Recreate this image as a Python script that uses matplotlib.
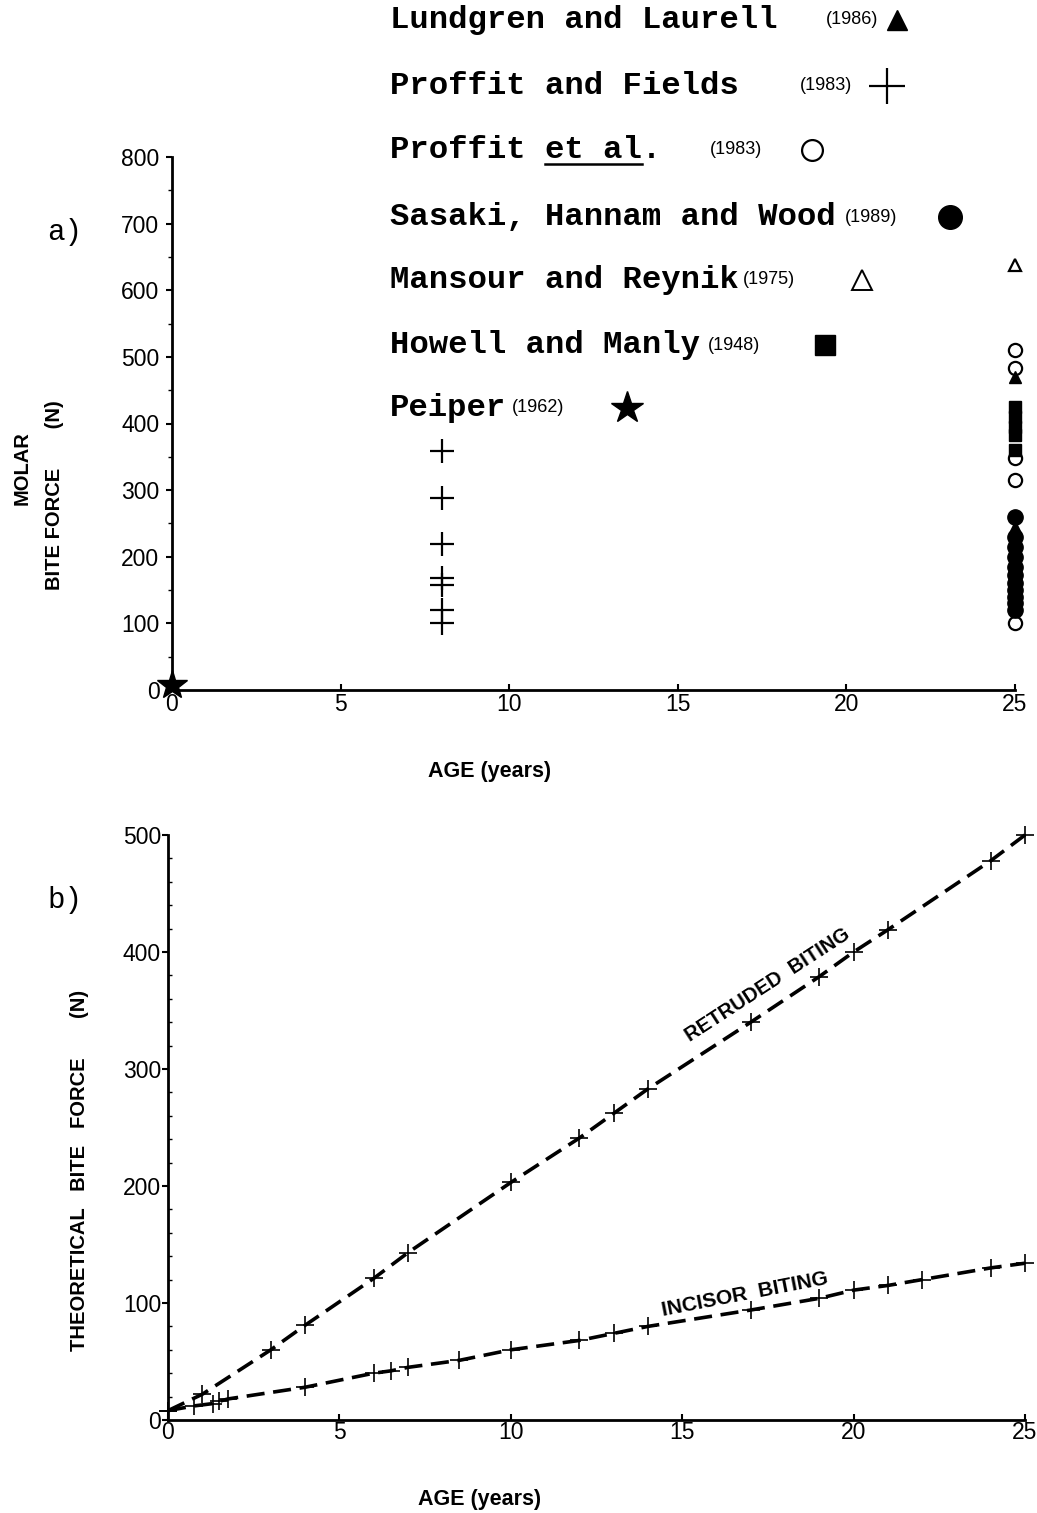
import numpy as np
import matplotlib
matplotlib.use('Agg')
import matplotlib.pyplot as plt

# --- data ---
# a) molar bite force vs age
pf_age = [8, 8, 8, 8, 8, 8, 8]                      # Proffit and Fields (1983)
pf_force = [359, 288, 219, 168, 158, 120, 100]

pe_age = [25, 25, 25, 25, 25]                       # Proffit et al. (1983)
pe_force = [510, 483, 348, 315, 100]

shw_age = [25] * 11                                 # Sasaki, Hannam and Wood (1989)
shw_force = [260, 230, 215, 200, 185, 172, 160, 150, 140, 130, 120]

mr_age = [25]                                       # Mansour and Reynik (1975)
mr_force = [638]

hm_age = [25, 25, 25, 25, 25]                       # Howell and Manly (1948)
hm_force = [425, 410, 395, 382, 360]

ll_age = [25, 25]                                   # Lundgren and Laurell (1986)
ll_force = [470, 245]

pei_age = [0]                                       # Peiper (1962)
pei_force = [8]

# b) theoretical bite force
ret_age = [0, 1, 3, 4, 6, 7, 10, 12, 13, 14, 17, 19, 20, 21, 24, 25]
ret_force = [8, 22, 60, 81, 121, 143, 203, 241, 262, 283, 340, 379, 400, 419, 478, 500]

inc_age = [0, 0.75, 1.3, 1.5, 1.75, 4, 6, 6.5, 7, 8.5, 10, 12, 13, 14, 17, 19, 20, 21, 22, 24, 25]
inc_force = [8, 12, 14, 16, 18, 28, 40, 42, 45, 51, 60, 68, 74, 80, 94, 104, 111, 115, 120, 130, 134]

W, H = 1037, 1513
fig = plt.figure(figsize=(W / 100, H / 100), dpi=100)

def fx(x):
    return x / W

def fy(y):
    return 1 - y / H

mono = 'Liberation Mono'
sans = 'Liberation Sans'

# ---------------- panel a ----------------
ax = fig.add_axes([fx(172), fy(690), fx(1015 - 172), (690 - 157) / H])
ax.set_xlim(0, 25)
ax.set_ylim(0, 800)
for s in ['top', 'right']:
    ax.spines[s].set_visible(False)
for s in ['left', 'bottom']:
    ax.spines[s].set_linewidth(2)
ax.set_xticks([0, 5, 10, 15, 20, 25])
ax.set_yticks(range(0, 801, 100))
ax.set_yticks(range(50, 800, 100), minor=True)
ax.tick_params(axis='y', which='major', direction='out', length=4, width=1.5, pad=5, labelsize=16.5)
ax.tick_params(axis='y', which='minor', direction='out', length=3, width=1)
ax.tick_params(axis='x', which='major', direction='in', length=4, width=1.5, pad=2, labelsize=16.5)
for lab in ax.get_xticklabels() + ax.get_yticklabels():
    lab.set_family(sans)

kw = dict(linestyle='none', color='black', clip_on=False)
ax.plot(pf_age, pf_force, marker='+', ms=17, mew=1.6, **kw)
ax.plot(pe_age, pe_force, marker='o', ms=9.5, mfc='white', mew=1.6, **kw)
ax.plot(shw_age, shw_force, marker='o', ms=11, **kw)
ax.plot(hm_age, hm_force, marker='s', ms=9, **kw)
ax.plot(mr_age, mr_force, marker='^', ms=8, mfc='white', mew=1.6, **kw)
ax.plot(ll_age, ll_force, marker='^', ms=9, **kw)
ax.plot(pei_age, pei_force, marker='*', ms=22, **kw)

# legend written as text rows
rows = [
    ('Lundgren and Laurell', '(1986)', 20, 826, 897, dict(marker='^', ms=15)),
    ('Proffit and Fields', '(1983)', 86, 800, 887, dict(marker='+', ms=26, mew=1.6)),
    ('Proffit et al.', '(1983)', 150, 710, 812, dict(marker='o', ms=15, mfc='white', mew=1.6)),
    ('Sasaki, Hannam and Wood', '(1989)', 217, 845, 950, dict(marker='o', ms=17)),
    ('Mansour and Reynik', '(1975)', 280, 743, 862, dict(marker='^', ms=15, mfc='white', mew=1.4)),
    ('Howell and Manly', '(1948)', 345, 708, 825, dict(marker='s', ms=15)),
    ('Peiper', '(1962)', 408, 512, 627, dict(marker='*', ms=24)),
]
for name, year, y, yx, mx, mk in rows:
    fig.text(fx(390), fy(y), name, family=mono, weight='bold', fontsize=23.2,
             ha='left', va='center')
    fig.text(fx(yx), fy(y), year, family=sans, fontsize=13, ha='left', va='center')
    fig.add_artist(plt.Line2D([fx(mx)], [fy(y)], color='black', linestyle='none', **mk))
# underline "et al"
fig.add_artist(plt.Line2D([fx(545), fx(642)], [fy(164), fy(164)], color='black', lw=1.8))

fig.text(fx(65), fy(232), 'a)', family=mono, fontsize=21, ha='center', va='center')
fig.text(fx(22), fy(468), 'MOLAR', family=sans, weight='bold', fontsize=14.5,
         rotation=90, ha='center', va='center')
fig.text(fx(55), fy(495), 'BITE FORCE       (N)', family=sans, weight='bold', fontsize=14.5,
         rotation=90, ha='center', va='center')
fig.text(fx(490), fy(772), 'AGE (years)', family=sans, weight='bold', fontsize=15.5,
         ha='center', va='center')

# ---------------- panel b ----------------
bx = fig.add_axes([fx(168), fy(1420), fx(1025 - 168), (1420 - 835) / H])
bx.set_xlim(0, 25)
bx.set_ylim(0, 500)
for s in ['top', 'right']:
    bx.spines[s].set_visible(False)
for s in ['left', 'bottom']:
    bx.spines[s].set_linewidth(2)
bx.set_xticks([0, 5, 10, 15, 20, 25])
bx.set_yticks(range(0, 501, 100))
bx.set_yticks(range(20, 500, 20), minor=True)
bx.tick_params(axis='y', which='major', direction='out', length=4, width=1.5, pad=1, labelsize=16.5)
bx.tick_params(axis='y', which='minor', direction='in', length=3, width=1)
bx.tick_params(axis='x', which='major', direction='in', length=4, width=1.5, pad=1, labelsize=16.5)
for lab in bx.get_xticklabels() + bx.get_yticklabels():
    lab.set_family(sans)

line_kw = dict(color='black', lw=2.6, dashes=(5, 2.4), marker='+', ms=13, mew=1.2, clip_on=False)
bx.plot(ret_age, ret_force, **line_kw)
bx.plot(inc_age, inc_force, **line_kw)

fig.text(fx(768), fy(985), 'RETRUDED  BITING', family=sans, weight='bold', fontsize=14.5,
         rotation=33, ha='center', va='center')
fig.text(fx(745), fy(1294), 'INCISOR  BITING', family=sans, weight='bold', fontsize=15,
         rotation=11, ha='center', va='center')

fig.text(fx(65), fy(900), 'b)', family=mono, fontsize=21, ha='center', va='center')
fig.text(fx(80), fy(1170), 'THEORETICAL   BITE   FORCE       (N)', family=sans, weight='bold',
         fontsize=14.5, rotation=90, ha='center', va='center')
fig.text(fx(480), fy(1500), 'AGE (years)', family=sans, weight='bold', fontsize=15.5,
         ha='center', va='center')

fig.savefig('out.png', dpi=100, facecolor='white')
